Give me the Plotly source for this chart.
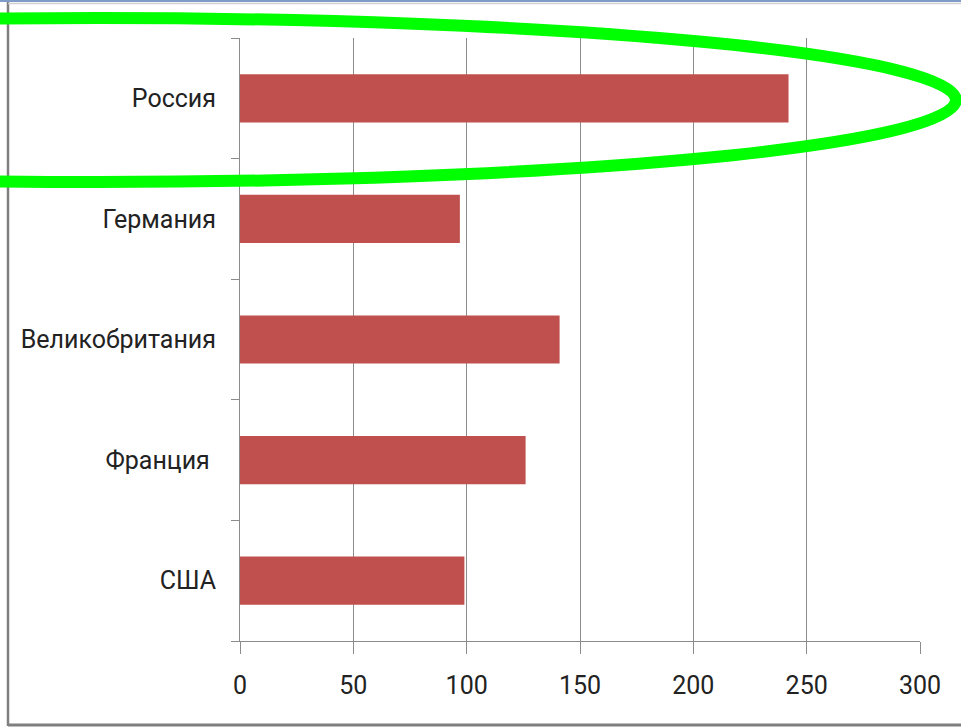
import plotly.graph_objects as go

categories = ["США", "Франция ", "Великобритания", "Германия", "Россия"]
values = [99, 126, 141, 97, 242]
x_ticks = [0, 50, 100, 150, 200, 250, 300]

FONT = "Liberation Sans Narrow, Arial Narrow, Roboto, sans-serif"
GRAY = "#8c8c8c"

fig = go.Figure(
    go.Bar(
        x=values,
        y=categories,
        orientation="h",
        marker=dict(color="#c0504d", line=dict(width=0)),
        width=0.4,
    )
)

fig.update_layout(
    width=961,
    height=728,
    margin=dict(l=240, r=41, t=38, b=87),
    paper_bgcolor="white",
    plot_bgcolor="white",
    showlegend=False,
    font=dict(family=FONT, size=25, color="#222222"),
    xaxis=dict(
        range=[0, 300],
        tickvals=x_ticks,
        showgrid=True,
        gridcolor=GRAY,
        gridwidth=1,
        showline=True,
        linecolor=GRAY,
        linewidth=1,
        ticks="outside",
        ticklen=12,
        tickcolor=GRAY,
        zeroline=False,
        ticklabelstandoff=10,
        automargin=False,
        fixedrange=True,
    ),
    yaxis=dict(
        categoryorder="array",
        categoryarray=categories,
        showgrid=False,
        showline=True,
        linecolor=GRAY,
        linewidth=1,
        ticks="outside",
        tickson="boundaries",
        ticklen=8,
        tickcolor=GRAY,
        ticklabelstandoff=18,
        zeroline=False,
        automargin=False,
        fixedrange=True,
    ),
    shapes=[
        # outer frame pieces
        dict(type="line", xref="paper", yref="paper",
             x0=(8 - 240) / 680, x1=(8 - 240) / 680,
             y0=(641 - 2) / 603, y1=(641 - 726) / 603,
             line=dict(color="#7f7f7f", width=2.5)),
        dict(type="line", xref="paper", yref="paper",
             x0=(8 - 240) / 680, x1=(961 - 240) / 680,
             y0=(641 - 725) / 603, y1=(641 - 725) / 603,
             line=dict(color="#7f7f7f", width=3)),
        dict(type="line", xref="paper", yref="paper",
             x0=(0 - 240) / 680, x1=(961 - 240) / 680,
             y0=(641 - 1) / 603, y1=(641 - 1) / 603,
             line=dict(color="#7f9cc8", width=2)),
        dict(type="line", xref="paper", yref="paper",
             x0=(8 - 240) / 680, x1=(961 - 240) / 680,
             y0=(641 - 3.5) / 603, y1=(641 - 3.5) / 603,
             line=dict(color="#d0d0d0", width=1.5)),
        # green highlight ellipse around Россия
        dict(type="circle", xref="paper", yref="paper",
             x0=(-760 - 240) / 680, x1=(956 - 240) / 680,
             y0=(641 - 182) / 603, y1=(641 - 18) / 603,
             line=dict(color="#00ff00", width=12)),
    ],
)

fig.write_html(
    "out.html",
    config={"displayModeBar": False},
    post_script="document.body.style.margin='0';document.body.style.overflow='hidden';",
)
